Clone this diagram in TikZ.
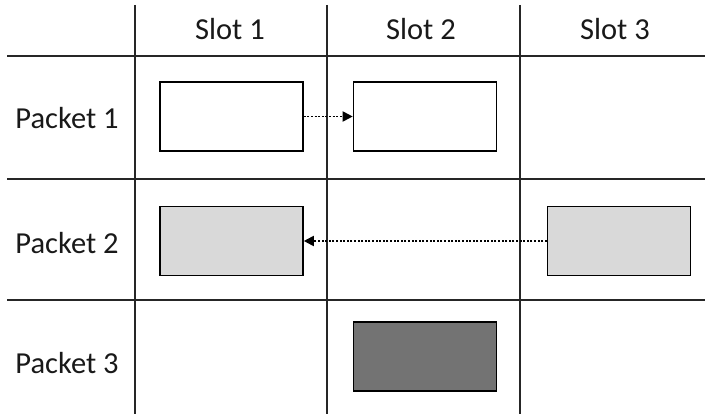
\documentclass[tikz,border=0pt]{standalone}
\usepackage{fontspec}
\setmainfont{Carlito}
\usetikzlibrary{arrows.meta}
\definecolor{lightbox}{HTML}{D9D9D9}
\definecolor{darkbox}{HTML}{737373}
\begin{document}
\begin{tikzpicture}[x=1pt,y=-1pt,
  grid/.style={line width=1.8pt,draw=black!85},
  slotbox/.style={draw=black,line width=1.6pt,minimum width=143pt,minimum height=69pt,inner sep=0pt},
  lbl/.style={font=\fontsize{30.5}{36}\selectfont,text=black!90,inner sep=0pt},
  dotarrow/.style={line width=1.8pt,dash pattern=on 2pt off 1.6pt,-{Triangle[length=10pt,width=10pt]}}]
\useasboundingbox (0,0) rectangle (705,414);
% grid
\draw[grid] (7,56) -- (705,56);
\draw[grid] (7,179) -- (705,179);
\draw[grid] (7,300) -- (705,300);
\draw[grid] (135,5) -- (135,414);
\draw[grid] (327,5) -- (327,414);
\draw[grid] (520,5) -- (520,414);
% headers
\node[lbl] (s1) at (230,29) {Slot 1};
\node[lbl] (s2) at (421,29) {Slot 2};
\node[lbl] (s3) at (615,29) {Slot 3};
\node[lbl] (p1) at (67,118) {Packet 1};
\node[lbl] (p2) at (67,243) {Packet 2};
\node[lbl] (p3) at (67,363) {Packet 3};
% boxes
\node[slotbox,fill=white] (b11) at (231.5,116.5) {};
\node[slotbox,fill=white] (b12) at (425,116.5) {};
\node[slotbox,fill=lightbox] (b21) at (231.5,241) {};
\node[slotbox,fill=lightbox] (b23) at (619,241) {};
\node[slotbox,fill=darkbox] (b32) at (425,356.5) {};
% arrows
\draw[dotarrow] (b11.east) -- (b12.west);
\draw[dotarrow] (b23.west) -- (b21.east);
\end{tikzpicture}
\end{document}
